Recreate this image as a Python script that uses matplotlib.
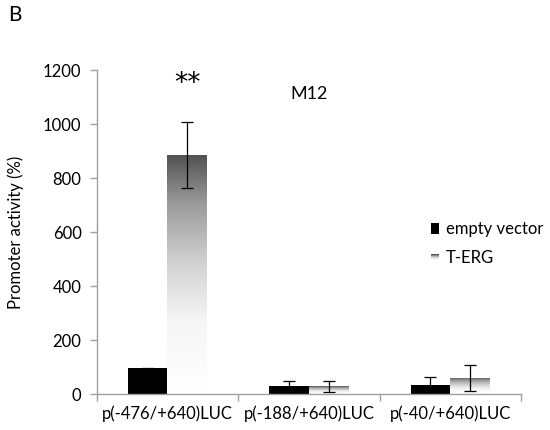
import numpy as np
import matplotlib
matplotlib.use("Agg")
import matplotlib.pyplot as plt
from matplotlib.legend_handler import HandlerBase
from matplotlib.patches import Rectangle, Patch
from matplotlib.colors import LinearSegmentedColormap

categories = ["p(-476/+640)LUC", "p(-188/+640)LUC", "p(-40/+640)LUC"]
empty_vals = [95, 28, 35]
empty_err = [3, 22, 27]
terg_vals = [885, 28, 60]
terg_err = [122, 20, 48]
yticks = [0, 200, 400, 600, 800, 1000, 1200]

plt.rcParams['font.family'] = ['Lato', 'DejaVu Sans']

fig = plt.figure(figsize=(5.5, 4.3), dpi=100)
ax = fig.add_axes([0.176, 0.0837, 0.771, 0.7533])

x = np.arange(len(categories))
w = 0.28
cmap = LinearSegmentedColormap.from_list(
    "g", [(0.0, "#ffffff"), (0.3, "#f6f6f6"), (0.55, "#d2d2d2"),
          (0.8, "#9a9a9a"), (1.0, "#525252")])

b1 = ax.bar(x - w / 2, empty_vals, w, color="black", zorder=2)
ax.errorbar(x - w / 2, empty_vals, yerr=empty_err, fmt="none", ecolor="black",
            elinewidth=0.9, capsize=4, capthick=0.9, zorder=4)

b2 = ax.bar(x + w / 2, terg_vals, w, color="none", edgecolor="none", zorder=2)
grad = np.linspace(0, 1, 256).reshape(-1, 1)
for rect in b2:
    x0, y0 = rect.get_x(), rect.get_y()
    bw, bh = rect.get_width(), rect.get_height()
    im = ax.imshow(grad, extent=[x0, x0 + bw, y0, y0 + bh], origin="lower",
                   cmap=cmap, aspect="auto", zorder=2, interpolation="bilinear")
    im.set_clip_path(rect)
ax.errorbar(x + w / 2, terg_vals, yerr=terg_err, fmt="none", ecolor="black",
            elinewidth=0.9, capsize=4, capthick=0.9, zorder=4)

ax.set_xlim(-0.5, 2.5)
ax.set_ylim(0, 1200)
ax.set_yticks(yticks)
ax.set_xticks(x)
ax.set_xticklabels(categories, fontsize=12)
ax.set_xticks([-0.5, 0.5, 1.5, 2.5], minor=True)
ax.tick_params(axis="x", which="major", length=0, pad=8)
ax.tick_params(axis="x", which="minor", length=5, color="#a0a0a0", width=1)
ax.tick_params(axis="y", length=5, color="#a0a0a0", width=1, labelsize=12, pad=6)
for s in ["top", "right"]:
    ax.spines[s].set_visible(False)
for s in ["left", "bottom"]:
    ax.spines[s].set_color("#a0a0a0")
    ax.spines[s].set_linewidth(1)

ax.set_ylabel("Promoter activity (%)", fontsize=12, labelpad=14)

ax.text(x[0] + w / 2, 1150, "**", ha="center", va="center", fontsize=19,
        family="DejaVu Sans")
ax.text(1.0, 1112, "M12", ha="center", va="center", fontsize=13)
fig.text(0.015, 0.965, "B", fontsize=15, ha="left", va="center")


class GradHandler(HandlerBase):
    def create_artists(self, legend, orig_handle, xdescent, ydescent, width,
                       height, fontsize, trans):
        arts = []
        n = 6
        hh = height * 0.45
        y0 = -ydescent + height * 0.3
        for i in range(n):
            c = cmap(1 - i / (n - 1) * 0.8)
            r = Rectangle((-xdescent + width * 0.3, y0 + hh * (n - 1 - i) / n),
                          width * 0.5, hh / n, facecolor=c, edgecolor="none",
                          transform=trans)
            arts.append(r)
        return arts


class SquareHandler(HandlerBase):
    def create_artists(self, legend, orig_handle, xdescent, ydescent, width,
                       height, fontsize, trans):
        r = Rectangle((-xdescent + width * 0.3, -ydescent + height * 0.05),
                      width * 0.5, height * 0.9, facecolor="black",
                      edgecolor="none", transform=trans)
        return [r]


h1 = Patch(facecolor="black")
h2 = Patch(facecolor="gray")
ax.legend([h1, h2], ["empty vector", "T-ERG"], loc="upper left",
          bbox_to_anchor=(0.74, 0.58), frameon=False, fontsize=12,
          handler_map={h1: SquareHandler(), h2: GradHandler()},
          handlelength=1.0, handleheight=0.8, handletextpad=0.2,
          labelspacing=0.8)

fig.savefig("out.png", dpi=100)
